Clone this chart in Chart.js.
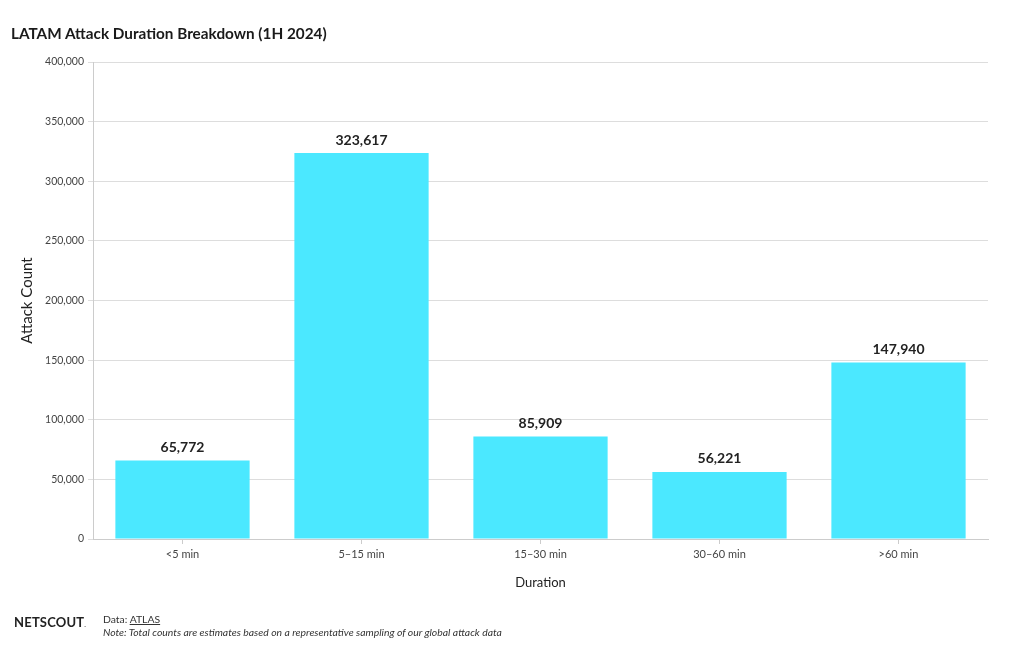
<!DOCTYPE html>
<html>
<head>
<script src="https://cdn.jsdelivr.net/npm/chart.js@4.4.1/dist/chart.umd.min.js"></script>
<style>
  body { margin: 0; background: #fff; font-family: Lato, "Noto Sans", sans-serif; }
  #wrap { position: relative; width: 1020px; height: 650px; }
  #title { position: absolute; left: 11px; top: 24px; font-size: 15.3px; font-weight: bold; color: #1a1a1a; }
  #logo { position: absolute; left: 14px; top: 614px; font-size: 13px; font-weight: bold; color: #222; letter-spacing: 0.2px; }
  #src { position: absolute; left: 103px; top: 613px; font-size: 10.4px; color: #333; line-height: 13px; }
  #src a { color: #333; }
</style>
</head>
<body>
<div id="wrap">
  <canvas id="durChart" width="1020" height="650"></canvas>
  <div id="title">LATAM Attack Duration Breakdown (1H 2024)</div>
  <div id="logo">NETSCOUT<span style="font-size:7px;font-weight:normal">.</span></div>
  <div id="src">Data: <a href="#">ATLAS</a><br><i>Note: Total counts are estimates based on a representative sampling of our global attack data</i></div>
</div>

<script>
var durations = ["<5 min", "5\u201315 min", "15\u201330 min", "30\u201360 min", ">60 min"];
var attackCounts = [65772, 323617, 85909, 56221, 147940];
var yTicks = [0, 50000, 100000, 150000, 200000, 250000, 300000, 350000, 400000];

// value labels on top of the bars
var barLabels = {
	id: 'barLabels',
	afterDatasetsDraw: function(chart) {
		var ctx = chart.ctx;
		var meta = chart.getDatasetMeta(0);
		ctx.save();
		ctx.font = 'bold 14px Lato, "Noto Sans", sans-serif';
		ctx.fillStyle = '#222';
		ctx.textAlign = 'center';
		ctx.textBaseline = 'bottom';
		meta.data.forEach(function(bar, i) {
			ctx.fillText(attackCounts[i].toLocaleString('en-US'), bar.x, bar.y - 6);
		});
		ctx.restore();
	}
};

var durConfig = {
	type: 'bar',
	data: {
		labels: durations,
		datasets: [{
			label: 'Attack Count',
			data: attackCounts,
			backgroundColor: '#4be8ff',
			categoryPercentage: 1.0,
			barPercentage: 0.75
		}]
	},
	options: {
		responsive: false,
		animation: false,
		layout: { padding: { top: 62, right: 32, bottom: 55, left: 0 } },
		plugins: { legend: { display: false }, tooltip: { enabled: false } },
		scales: {
			x: {
				grid: { display: true, offset: false, drawOnChartArea: false, tickLength: 5, color: '#ccc' },
				border: { color: '#ccc' },
				ticks: { color: '#444', font: { size: 11, family: 'Lato, "Noto Sans", sans-serif' }, padding: 4 },
				title: { display: true, text: 'Duration', color: '#222', font: { size: 13, family: 'Lato, "Noto Sans", sans-serif' }, padding: { top: 4, bottom: 4 } },
				afterFit: function(scale) { scale.height = 56; }
			},
			y: {
				min: 0,
				max: 400000,
				afterBuildTicks: function(scale) {
					scale.ticks = yTicks.map(function(v) { return { value: v }; });
				},
				grid: { color: '#ddd', tickLength: 5 },
				border: { color: '#ccc' },
				ticks: {
					color: '#444',
					font: { size: 10.5, family: 'Lato, "Noto Sans", sans-serif' },
					padding: 4,
					callback: function(v) { return v.toLocaleString('en-US'); }
				},
				title: { display: true, text: 'Attack Count', color: '#222', font: { size: 15, family: 'Lato, "Noto Sans", sans-serif' }, padding: { top: 18 } },
				afterFit: function(scale) { scale.width = 93; }
			}
		}
	},
	plugins: [barLabels]
};

var durChart = new Chart(document.getElementById('durChart').getContext('2d'), durConfig);
</script>
</body>
</html>
